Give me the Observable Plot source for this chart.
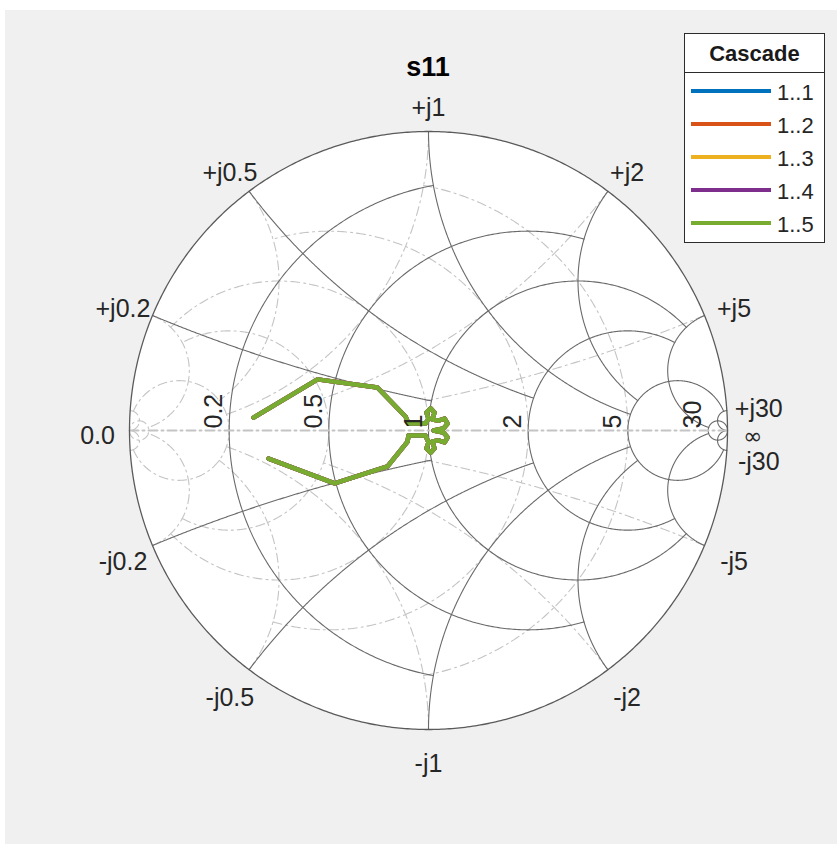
<!DOCTYPE html>
<html>
<head>
<meta charset="utf-8">
<script src="https://cdn.jsdelivr.net/npm/d3@7"></script>
<script src="https://cdn.jsdelivr.net/npm/@observablehq/plot@0.6"></script>
<style>
  body { margin: 0; background: #ffffff; }
  #fig { position: relative; width: 837px; height: 844px; overflow: hidden;
         font-family: "Liberation Sans", Arial, Helvetica, sans-serif; }
  #bg { position: absolute; left: 5px; top: 10px; right: 0; bottom: 0; background: #f0f0f0; }
  #chart { position: absolute; left: 0; top: 0; }
  #title { position: absolute; left: 328px; width: 200px; top: 54px; line-height: 27px;
           text-align: center; font-weight: bold; font-size: 27px; color: #000; }
  #legend { position: absolute; left: 684px; top: 33px; width: 139px; height: 208px;
            background: #fff; border: 1px solid #2b2b2b; }
  #legend .head { position: absolute; left: 0; top: 0; width: 139px; height: 38px;
                  border-bottom: 1px solid #2b2b2b; text-align: center; font-weight: bold;
                  font-size: 22px; line-height: 40px; color: #1a1a1a; }
  #legend .sw { position: absolute; left: 6px; width: 80px; height: 4px; }
  #legend .lab { position: absolute; left: 92px; font-size: 22px; line-height: 22px; color: #262626; }
</style>
</head>
<body>
<div id="fig">
  <div id="bg"></div>
  <div id="chart"></div>
  <div id="title"></div>
  <div id="legend"></div>
</div>
<script>
// ---------- data ----------
const chartTitle = "s11";
const legendTitle = "Cascade";
const seriesNames = ["1..1", "1..2", "1..3", "1..4", "1..5"];
const seriesColors = ["#0072BD", "#D95319", "#EDB120", "#7E2F8E", "#77AC30"];

// All five cascade traces coincide; only the last one (green) is visible on top.
const s11Re = [-0.585, -0.371, -0.171, -0.077, -0.067, -0.010, 0.000, -0.007, 0.007, 0.020,
               0.013, 0.033, 0.054, 0.064, 0.050, 0.017, 0.050, 0.064, 0.054, 0.033,
               0.013, 0.020, 0.007, -0.007, 0.000, -0.010, -0.067, -0.070, -0.137, -0.314, -0.535];
const s11Im = [0.043, 0.171, 0.144, 0.047, 0.023, 0.023, 0.040, 0.060, 0.074, 0.060,
               0.037, 0.033, 0.040, 0.023, 0.007, 0.000, -0.007, -0.023, -0.040, -0.033,
               -0.037, -0.060, -0.074, -0.060, -0.040, -0.017, -0.017, -0.037, -0.120, -0.177, -0.094];

// Smith chart grid (value, and how far each line runs)
const gridValues = [30, 5, 2, 1, 0.5, 0.2];
const gridLimits = [Infinity, 30, 5, 5, 2, 1];
const resistanceLabels = ["30", "5", "2", "1", "0.5", "0.2"];
const reactanceLabelsPos = ["+j30", "+j5", "+j2", "+j1", "+j0.5", "+j0.2"];
const reactanceLabelsNeg = ["-j30", "-j5", "-j2", "-j1", "-j0.5", "-j0.2"];
const edgeLabelLeft = "0.0";
const edgeLabelRight = "\u221E";

// ---------- geometry helpers ----------
function gamma(r, x) {
  const den = (r + 1) * (r + 1) + x * x;
  return [(r * r + x * x - 1) / den, (2 * x) / den];
}
const N = 360;
function rCircle(r, lim) {
  const c = r / (r + 1), rho = 1 / (r + 1);
  let p0 = 0;
  if (lim !== Infinity) { const g = gamma(r, lim); p0 = Math.atan2(g[1], g[0] - c); }
  const p1 = 2 * Math.PI - p0, pts = [];
  for (let i = 0; i <= N; i++) {
    const a = p0 + (p1 - p0) * i / N;
    pts.push([c + rho * Math.cos(a), rho * Math.sin(a)]);
  }
  return pts;
}
function normA(a) {
  while (a < Math.PI / 2 - 1e-9) a += 2 * Math.PI;
  while (a > 1.5 * Math.PI + 1e-9) a -= 2 * Math.PI;
  return a;
}
function xArc(x, lim) { // x > 0
  const cx = 1, cy = 1 / x, rho = 1 / x;
  const g0 = gamma(0, x);
  const a0 = normA(Math.atan2(g0[1] - cy, g0[0] - cx));
  let a1;
  if (lim === Infinity) a1 = 1.5 * Math.PI;
  else { const g1 = gamma(lim, x); a1 = normA(Math.atan2(g1[1] - cy, g1[0] - cx)); }
  const pts = [];
  for (let i = 0; i <= N; i++) {
    const a = a0 + (a1 - a0) * i / N;
    pts.push([cx + rho * Math.cos(a), cy + rho * Math.sin(a)]);
  }
  return pts;
}

// build grid line tables
const zGrid = [], yGrid = [];
let gid = 0;
function addCurve(pts) {
  const id = gid++;
  for (const [u, v] of pts) {
    zGrid.push({id, u, v});
    yGrid.push({id, u: -u, v: -v});
  }
}
gridValues.forEach((val, i) => {
  const lim = gridLimits[i];
  addCurve(rCircle(val, lim));
  const arc = xArc(val, lim);
  addCurve(arc);
  addCurve(arc.map(([u, v]) => [u, -v]));
});
const outer = [];
for (let i = 0; i <= 720; i++) {
  const a = 2 * Math.PI * i / 720;
  outer.push({u: Math.cos(a), v: Math.sin(a)});
}
const realAxis = [{u: -1, v: 0}, {u: 1, v: 0}];

// series table
const traces = [];
seriesNames.forEach(name => {
  s11Re.forEach((re, i) => traces.push({series: name, re, im: s11Im[i]}));
});

// ---------- labels ----------
const FS = 25;
const labelMarks = [];
function edgeLabel(text, u, v, opts = {}) {
  const th = Math.atan2(v, u);
  const dx = opts.dx !== undefined ? opts.dx : 32 * Math.cos(th);
  const dy = -29 * Math.sin(th) + 5 + (opts.ddy || 0);
  labelMarks.push(Plot.text([{u, v, t: text}], {
    x: "u", y: "v", text: "t", dx, dy, textAnchor: "middle", lineAnchor: "middle",
    fontSize: opts.fs || FS, fill: "#262626",
    fontFamily: opts.ff || "'Liberation Sans', Arial, Helvetica, sans-serif"
  }));
}
gridValues.forEach((val, i) => {
  const gp = gamma(0, val);
  const nudge = val >= 30 ? 5 : 0;
  edgeLabel(reactanceLabelsPos[i], gp[0], gp[1], {ddy: -nudge});
  edgeLabel(reactanceLabelsNeg[i], gp[0], -gp[1], {ddy: nudge});
});
edgeLabel(edgeLabelLeft, -1, 0);
edgeLabel(edgeLabelRight, 1, 0, {dx: 25, ddy: 1, fs: 23, ff: "'DejaVu Sans', sans-serif"});

const rLabelData = gridValues.map((val, i) => ({u: (val - 1) / (val + 1), v: 0, t: resistanceLabels[i]}));

// ---------- plot ----------
const chart = Plot.plot({
  width: 837, height: 844,
  marginLeft: 129, marginRight: 110, marginTop: 131, marginBottom: 115,
  x: {domain: [-1, 1], axis: null},
  y: {domain: [-1, 1], axis: null},
  color: {domain: seriesNames, range: seriesColors},
  style: {background: "transparent", overflow: "visible",
          fontFamily: "'Liberation Sans', Arial, Helvetica, sans-serif"},
  marks: [
    Plot.line(outer, {x: "u", y: "v", fill: "white", stroke: "none"}),
    Plot.line(yGrid, {x: "u", y: "v", z: "id", stroke: "#c4c4c4", strokeWidth: 1.1,
                      strokeDasharray: "9,4,2,4"}),
    Plot.line(zGrid, {x: "u", y: "v", z: "id", stroke: "#6a6a6a", strokeWidth: 1.1}),
    Plot.line(realAxis, {x: "u", y: "v", stroke: "#c4c4c4", strokeWidth: 2,
                         strokeDasharray: "9,4,2,4"}),
    Plot.line(outer, {x: "u", y: "v", stroke: "#5a5a5a", strokeWidth: 1.3}),
    Plot.line(traces, {x: "re", y: "im", z: "series", stroke: "series", strokeWidth: 4.5,
                       strokeLinejoin: "round", strokeLinecap: "round"}),
    Plot.text(rLabelData, {x: "u", y: "v", text: "t", rotate: -90, textAnchor: "start",
                           lineAnchor: "middle", dx: -15, dy: -2, fontSize: FS, fill: "#262626"}),
    ...labelMarks
  ]
});
document.getElementById("chart").appendChild(chart);

// ---------- title & legend ----------
document.getElementById("title").textContent = chartTitle;
const lg = d3.select("#legend");
lg.append("div").attr("class", "head").text(legendTitle);
seriesNames.forEach((name, i) => {
  const cy = 57 + 33 * i;
  lg.append("div").attr("class", "sw").style("top", (cy - 2) + "px").style("background", seriesColors[i]);
  lg.append("div").attr("class", "lab").style("top", (cy - 9) + "px").text(name);
});
</script>
</body>
</html>
